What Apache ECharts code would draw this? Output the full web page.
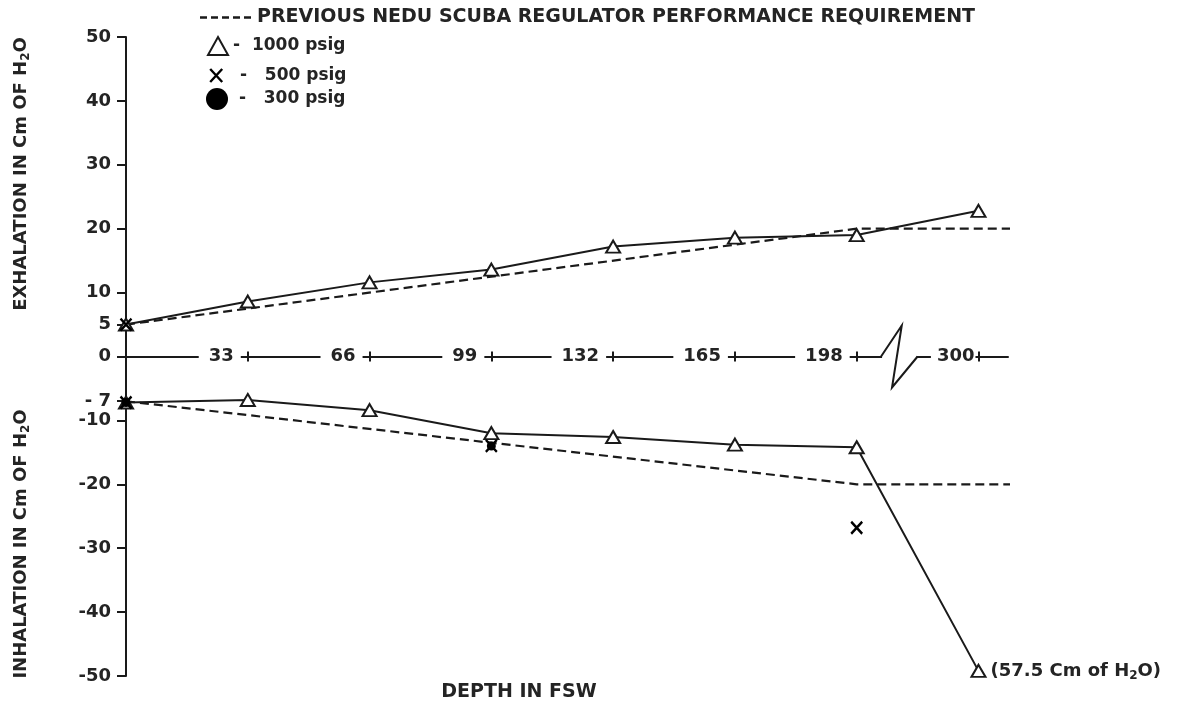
<!DOCTYPE html>
<html>
<head>
<meta charset="utf-8">
<script src="https://cdn.jsdelivr.net/npm/echarts@6/dist/echarts.min.js"></script>
<style>
  html, body { margin: 0; padding: 0; background: #fff; }
  #chart { width: 1183px; height: 709px; }
</style>
</head>
<body>
<div id="chart"></div>
<script>
// Depth stations (fsw) and the labels printed on the depth axis
const depths = [0, 33, 66, 99, 132, 165, 198, 300];
const depthLabels = ['0', '33', '66', '99', '132', '165', '198', '300'];

// 1000 psig supply: exhalation (positive) and inhalation (negative) effort, cm of H2O
const exhale1000 = [5.0, 8.6, 11.6, 13.6, 17.2, 18.6, 19.0, 22.8];
const inhale1000 = [-7.2, -6.8, -8.4, -12.0, -12.6, -13.8, -14.2, -57.5];

// 500 psig supply readings
const depths500 = [0, 0, 99, 198];
const values500 = [5.0, -7.2, -14.0, -26.8];

// 300 psig supply readings
const depths300 = [0, 99];
const values300 = [-7.2, -14.0];

// Previous NEDU requirement (dashed), flat beyond 198 fsw
const reqExhaleDepths = [0, 198, 309];
const reqExhaleValues = [5, 20, 20];
const reqInhaleDepths = [0, 198, 313];
const reqInhaleValues = [-7, -20, -20];

// Pressure axis ticks
const pressureTicks = [50, 40, 30, 20, 10, 5, 0, -7, -10, -20, -30, -40, -50];

const REQ_NAME = 'PREVIOUS NEDU SCUBA REGULATOR PERFORMANCE REQUIREMENT';
const FONT = '"DejaVu Sans", "Liberation Sans", sans-serif';
const INK = '#1a1a1a';
const TEXT = '#242424';

// The depth axis is broken between 198 and 300 fsw: the stretch is drawn as one station step.
const STEP = 33;
const BREAK_START = 198;
const BREAK_END = 300;
function axisPos(d) {
  if (d <= BREAK_START) return d;
  return BREAK_START + STEP + (d - BREAK_END);
}
const labelByPos = {};
depths.forEach((d, i) => { labelByPos[axisPos(d)] = depthLabels[i]; });
const tickPositions = depths.filter(d => d > 0).map(axisPos);
const AFTER_BREAK = axisPos(BREAK_END);

const Y_MIN = -50, Y_MAX = 50;
// readings beyond the scale are pinned just inside the axis floor
const OFFSCALE_AT = Y_MIN + 0.8;
const X_MAX = 239;

// plot area
const GRID = { left: 126, top: 37, bottom: 33, right: 175 };
const PLOT_H = 709 - GRID.top - GRID.bottom;
// the depth axis runs along the zero line, halfway up the symmetric pressure scale
const ZERO_SHIFT = -PLOT_H * (0 - Y_MIN) / (Y_MAX - Y_MIN);

const pairs = (xs, ys) => xs.map((x, i) => [axisPos(x), ys[i]]);

const subRich = {
  a: { fontFamily: FONT, fontSize: 18, fontWeight: 'bold', color: TEXT, lineHeight: 22 },
  s: { fontFamily: FONT, fontSize: 12, fontWeight: 'bold', color: TEXT, lineHeight: 12, verticalAlign: 'bottom' }
};

const inhaleData = inhale1000.map((v, i) => {
  const item = { value: [axisPos(depths[i]), Math.max(v, OFFSCALE_AT)] };
  if (v < Y_MIN) {
    item.label = {
      show: true, position: 'right', distance: 4,
      formatter: '{a|(' + Math.abs(v) + ' Cm of H}{s|2}{a|O)}',
      rich: subRich
    };
  }
  return item;
});

const X_SYMBOL = 'path://M0,0L12,13M12,0L0,13';
const DASH_ICON = 'path://M0,0h7v2.4h-7zM11,0h7v2.4h-7zM22,0h7v2.4h-7zM33,0h7v2.4h-7zM44,0h7v2.4h-7z';

const legendText = { fontFamily: FONT, fontSize: 17, fontWeight: 'bold', color: TEXT };
const tickText = { fontFamily: FONT, fontSize: 18, fontWeight: 'bold', color: TEXT, backgroundColor: '#fff' };

const chart = echarts.init(document.getElementById('chart'), null, { renderer: 'canvas' });

const option = {
  backgroundColor: '#fff',
  animation: false,
  grid: Object.assign({ containLabel: false }, GRID),
  legend: [
    {
      left: 200, top: 8, padding: 0, selectedMode: false,
      itemWidth: 53, itemHeight: 2.4,
      data: [{ name: REQ_NAME, icon: DASH_ICON, itemStyle: { color: INK, borderWidth: 0 } }],
      textStyle: Object.assign({}, legendText, { fontSize: 19 })
    },
    {
      left: 207, top: 36, padding: 0, selectedMode: false,
      itemWidth: 20, itemHeight: 18,
      data: [{ name: '1000 psig', icon: 'triangle', itemStyle: { color: '#fff', borderColor: INK, borderWidth: 2 } }],
      formatter: n => '-  ' + n,
      textStyle: legendText
    },
    {
      left: 209, top: 67, padding: 0, selectedMode: false,
      itemWidth: 14, itemHeight: 13,
      data: [{ name: '500 psig', icon: X_SYMBOL, itemStyle: { color: 'rgba(0,0,0,0)', borderColor: '#000', borderWidth: 2.4 } }],
      formatter: n => '  -   ' + n,
      textStyle: legendText
    },
    {
      left: 206, top: 88, padding: 0, selectedMode: false,
      itemWidth: 22, itemHeight: 22,
      data: [{ name: '300 psig', icon: 'circle', itemStyle: { color: '#000', borderWidth: 0, opacity: 1 } }],
      formatter: n => ' -   ' + n,
      textStyle: legendText
    }
  ],
  xAxis: [
    {
      type: 'value', min: 0, max: X_MAX, position: 'bottom', offset: ZERO_SHIFT,
      axisLine: { show: true, onZero: false, lineStyle: { color: INK, width: 2 } },
      axisTick: { show: true, customValues: tickPositions, length: 5, lineStyle: { color: INK, width: 2 } },
      axisLabel: {
        show: true, customValues: tickPositions, margin: 0, align: 'right', verticalAlign: 'middle',
        // each label sits on the axis line, just left of its tick, with the line broken around it
        formatter: v => (v === AFTER_BREAK
          ? '{u|' + labelByPos[v] + '}{h| }'
          : '{t|' + (labelByPos[v] || '') + '}{g| }'),
        rich: {
          t: Object.assign({ padding: [2, 7, 2, 10] }, tickText),
          g: { width: 7, fontSize: 10 },
          u: Object.assign({ padding: [2, 1, 2, 6] }, tickText),
          h: { width: 3, fontSize: 10 }
        }
      },
      splitLine: { show: false }
    },
    {
      type: 'value', min: 0, max: X_MAX, position: 'top', offset: ZERO_SHIFT,
      axisLine: { show: false, onZero: false },
      axisTick: { show: true, customValues: tickPositions, length: 5, lineStyle: { color: INK, width: 2 } },
      axisLabel: { show: false },
      splitLine: { show: false }
    }
  ],
  yAxis: {
    type: 'value', min: Y_MIN, max: Y_MAX,
    axisLine: { show: true, onZero: false, lineStyle: { color: INK, width: 2 } },
    axisTick: { show: true, customValues: pressureTicks, length: 9, lineStyle: { color: INK, width: 2 } },
    axisLabel: {
      customValues: pressureTicks, margin: 15,
      fontFamily: FONT, fontSize: 18, fontWeight: 'bold', color: TEXT,
      formatter: v => (v === -7 ? '- 7' : String(v))
    },
    splitLine: { show: false }
  },
  series: [
    {
      name: REQ_NAME, type: 'line', data: pairs(reqExhaleDepths, reqExhaleValues),
      symbol: 'none', clip: false, silent: true, z: 2,
      lineStyle: { color: INK, width: 2.2, type: [9, 5] }
    },
    {
      name: REQ_NAME, type: 'line', data: pairs(reqInhaleDepths, reqInhaleValues),
      symbol: 'none', clip: false, silent: true, z: 2,
      lineStyle: { color: INK, width: 2.2, type: [9, 5] }
    },
    {
      name: '1000 psig', type: 'line', data: pairs(depths, exhale1000),
      symbol: 'triangle', symbolSize: [14, 12], showAllSymbol: true, silent: true, z: 3,
      itemStyle: { color: '#fff', borderColor: INK, borderWidth: 2 },
      lineStyle: { color: INK, width: 2 }
    },
    {
      name: '1000 psig', type: 'line', data: inhaleData,
      symbol: 'triangle', symbolSize: [14, 12], showAllSymbol: true, silent: true, z: 3,
      itemStyle: { color: '#fff', borderColor: INK, borderWidth: 2 },
      lineStyle: { color: INK, width: 2 }
    },
    {
      name: '500 psig', type: 'scatter', data: pairs(depths500, values500),
      symbol: X_SYMBOL, symbolSize: [11, 12], silent: true, z: 4,
      itemStyle: { color: 'rgba(0,0,0,0)', borderColor: '#000', borderWidth: 2.4, opacity: 1 }
    },
    {
      name: '300 psig', type: 'scatter', data: pairs(depths300, values300),
      symbol: 'circle', symbolSize: 9, silent: true, z: 4,
      itemStyle: { color: '#000', opacity: 1 }
    }
  ]
};

chart.setOption(option);

// Axis titles and the zigzag break mark on the depth axis
const px = (x, y) => chart.convertToPixel({ xAxisIndex: 0, yAxisIndex: 0 }, [x, y]);
const zigX = [0.2, 0.37, 0.29, 0.5].map(f => BREAK_START + f * STEP);
const zigY = [0, 4.85, -4.85, 0];
const zigPts = zigX.map((x, i) => px(x, zigY[i]));
const titleRich = {
  a: { fontFamily: FONT, fontSize: 18, fontWeight: 'bold', fill: TEXT, lineHeight: 22 },
  s: { fontFamily: FONT, fontSize: 12, fontWeight: 'bold', fill: TEXT, lineHeight: 12, verticalAlign: 'bottom' }
};

chart.setOption({
  graphic: [
    {
      type: 'text', x: 21, y: 174, rotation: Math.PI / 2, z: 100,
      style: { text: '{a|EXHALATION IN Cm OF H}{s|2}{a|O}', rich: titleRich, align: 'center', verticalAlign: 'middle' }
    },
    {
      type: 'text', x: 21, y: 544, rotation: Math.PI / 2, z: 100,
      style: { text: '{a|INHALATION IN Cm OF H}{s|2}{a|O}', rich: titleRich, align: 'center', verticalAlign: 'middle' }
    },
    {
      type: 'text', x: 519, y: 692, z: 100,
      style: { text: 'DEPTH IN FSW', fontFamily: FONT, fontSize: 19, fontWeight: 'bold', fill: TEXT, align: 'center', verticalAlign: 'middle' }
    },
    {
      type: 'line', z: 100,
      shape: { x1: zigPts[0][0] + 1, y1: zigPts[0][1], x2: zigPts[3][0] - 1, y2: zigPts[3][1] },
      style: { stroke: '#fff', lineWidth: 5 }
    },
    {
      type: 'polyline', z: 101,
      shape: { points: zigPts },
      style: { stroke: INK, lineWidth: 2, fill: null, lineJoin: 'miter' }
    }
  ]
});
</script>
</body>
</html>
